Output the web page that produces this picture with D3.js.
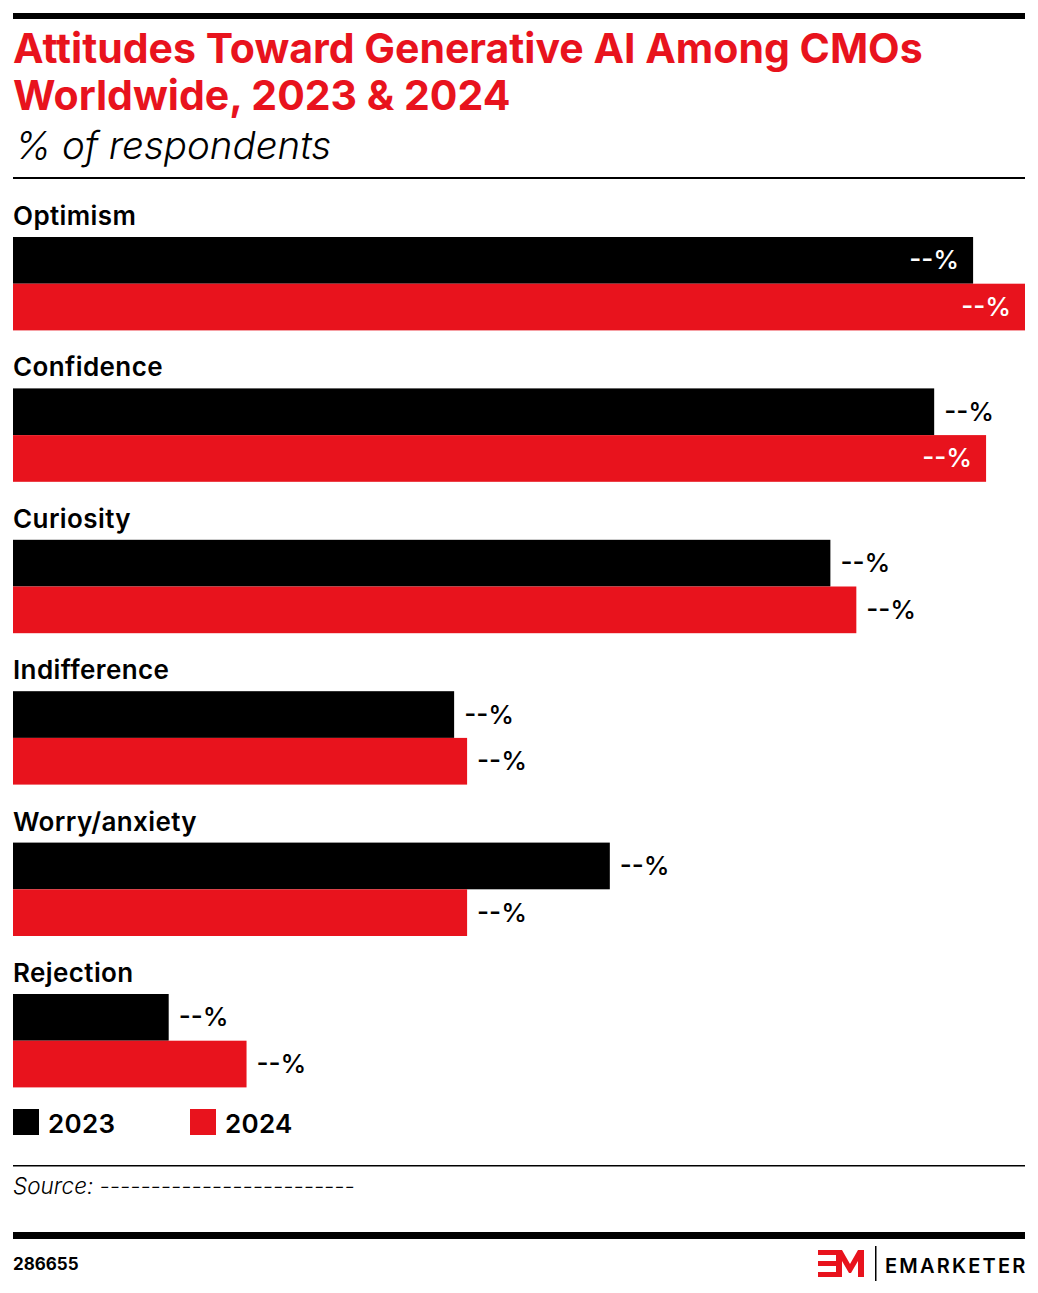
<!DOCTYPE html>
<html>
<head>
<meta charset="utf-8">
<script src="https://cdn.jsdelivr.net/npm/d3@7"></script>
<style>
  body { margin: 0; background: #fff; }
  svg { display: block; font-family: Inter, "Noto Sans", sans-serif; }
</style>
</head>
<body>
<div id="main"></div>
<script>
const categories = ["Optimism", "Confidence", "Curiosity", "Indifference", "Worry/anxiety", "Rejection"];
const series = ["2023", "2024"];
const values2023 = [74, 71, 63, 34, 46, 12];
const values2024 = [78, 75, 65, 35, 35, 18];
const valueLabel = "--%";

const red = "#e8131d";
const colors = ["#000000", red];

const svgWidth = 1038;
const svgHeight = 1293;
const left = 13;
const right = 1025;

const svg = d3.select("#main")
              .append("svg")
              .attr("width", svgWidth)
              .attr("height", svgHeight);

// header
svg.append("rect").attr("x", left).attr("y", 13).attr("width", right - left).attr("height", 6).attr("fill", "#000");

svg.append("text")
   .attr("x", left).attr("y", 63)
   .attr("fill", red).attr("font-size", 41).attr("font-weight", 700)
   .attr("letter-spacing", 0)
   .text("Attitudes Toward Generative AI Among CMOs");
svg.append("text")
   .attr("x", left).attr("y", 110)
   .attr("fill", red).attr("font-size", 41).attr("font-weight", 700)
   .attr("letter-spacing", 0)
   .text("Worldwide, 2023 & 2024");
svg.append("text")
   .attr("x", left + 2).attr("y", 159)
   .attr("fill", "#000").attr("font-size", 38.5).attr("font-style", "italic").attr("font-weight", 300)
   .text("% of respondents");

svg.append("rect").attr("x", left).attr("y", 177).attr("width", right - left).attr("height", 2).attr("fill", "#000");

// scales
const xScale = d3.scaleLinear()
                 .domain([0, d3.max(values2024.concat(values2023))])
                 .range([left, right]);

const yScale = d3.scaleBand()
                 .domain(categories)
                 .range([237, 237 + 151.4 * categories.length])
                 .paddingInner(0)
                 .paddingOuter(0);

const barHeight = 46.7;

const rows = categories.map((c, i) => ({ cat: c, vals: [values2023[i], values2024[i]] }));

const groups = svg.selectAll(".group")
                  .data(rows)
                  .enter()
                  .append("g")
                  .attr("class", "group")
                  .attr("transform", d => "translate(0," + yScale(d.cat) + ")");

groups.append("text")
      .attr("x", left)
      .attr("y", -12)
      .attr("font-size", 26)
      .attr("font-weight", 600)
      .attr("letter-spacing", 0.4)
      .attr("fill", "#000")
      .text(d => d.cat);

groups.each(function(d) {
  const g = d3.select(this);
  d.vals.forEach((v, j) => {
    const end = xScale(v);
    g.append("rect")
     .attr("x", xScale(0))
     .attr("y", j * barHeight)
     .attr("width", end - xScale(0))
     .attr("height", barHeight)
     .attr("fill", colors[j]);

    const inside = end + 70 > right;
    g.append("text")
     .attr("x", inside ? end - 14 : end + 10)
     .attr("y", j * barHeight + barHeight / 2 + 9)
     .attr("text-anchor", inside ? "end" : "start")
     .attr("font-size", 26)
     .attr("font-weight", 500)
     .attr("fill", inside ? "#fff" : "#000")
     .text(valueLabel);
  });
});

// legend
const legend = svg.selectAll(".legend")
                  .data(series)
                  .enter()
                  .append("g")
                  .attr("class", "legend")
                  .attr("transform", (d, i) => "translate(" + (left + i * 177) + ",1109)");

legend.append("rect")
      .attr("width", 26).attr("height", 26)
      .attr("fill", (d, i) => colors[i]);

legend.append("text")
      .attr("x", 35).attr("y", 24)
      .attr("font-size", 26).attr("font-weight", 600)
      .attr("letter-spacing", 0.3)
      .text(d => d);

// source
svg.append("rect").attr("x", left).attr("y", 1165).attr("width", right - left).attr("height", 1.5).attr("fill", "#000");
svg.append("text")
   .attr("x", left).attr("y", 1194)
   .attr("font-size", 22.5).attr("font-style", "italic").attr("font-weight", 300)
   .text("Source: -------------------------");

// footer
svg.append("rect").attr("x", left).attr("y", 1232).attr("width", right - left).attr("height", 7).attr("fill", "#000");
svg.append("text")
   .attr("x", left).attr("y", 1270)
   .attr("font-size", 17).attr("font-weight", 700)
   .text("286655");

// logo
const logo = svg.append("g").attr("transform", "translate(818,1250)");
logo.append("rect").attr("x", 0).attr("y", 0).attr("width", 18).attr("height", 5).attr("fill", red);
logo.append("rect").attr("x", 0).attr("y", 11).attr("width", 18).attr("height", 5).attr("fill", red);
logo.append("rect").attr("x", 0).attr("y", 22).attr("width", 18).attr("height", 5).attr("fill", red);
logo.append("path")
    .attr("d", "M18,27 L18,0 L24,0 L32,14 L40,0 L46,0 L46,27 L40,27 L40,11 L33,23 L31,23 L24,11 L24,27 Z")
    .attr("fill", red);
logo.append("rect").attr("x", 57).attr("y", -4).attr("width", 1.5).attr("height", 35).attr("fill", "#000");
svg.append("text")
   .attr("x", 885).attr("y", 1273)
   .attr("font-size", 20).attr("font-weight", 600)
   .attr("letter-spacing", 2.2)
   .text("EMARKETER");
</script>
</body>
</html>
